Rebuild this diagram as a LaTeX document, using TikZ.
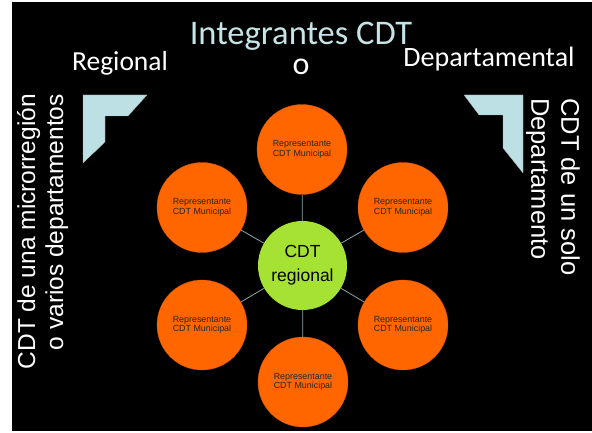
\documentclass[tikz,border=0pt]{standalone}
\usepackage{fontspec}
\setmainfont{Carlito}
\newfontfamily\arialfont{Liberation Sans}
\definecolor{munorange}{HTML}{FF6600}
\definecolor{regiongreen}{HTML}{A6E234}
\definecolor{titlecyan}{HTML}{C6E3E6}
\definecolor{bracketblue}{HTML}{BCE0E4}
\definecolor{spokegray}{HTML}{8CA6AE}

\begin{document}
\begin{tikzpicture}
  [x=1pt,y=-1pt,every node/.style={inner sep=0pt},
   muni/.style={circle, minimum size=90pt, fill=munorange, draw=munorange!85!black, line width=0.3pt,
     text=black!85, align=center, font=\arialfont\fontsize{8.9}{9.6}\selectfont},
   hub/.style={circle, minimum size=89pt, fill=regiongreen, align=center,
     font=\arialfont\fontsize{17.5}{24}\selectfont},
   bracket/.style={fill=bracketblue, draw=gray!70, line width=0.3pt}]
  \useasboundingbox (0,0) rectangle (592,433);
  \fill[white] (0,0) rectangle (592,433);
  \fill[black] (12,2) rectangle (592,431);

  % titles
  \node[anchor=base, text=titlecyan, font=\fontsize{34.5}{36}\selectfont] (title) at (301,45) {Integrantes CDT};
  \node[anchor=base, text=white, font=\fontsize{32}{36}\selectfont] (or) at (301,75) {o};
  \node[anchor=base, text=white, font=\fontsize{27.5}{30}\selectfont] (reg) at (120,71) {Regional};
  \node[anchor=base, text=white, font=\fontsize{28}{30}\selectfont] (dep) at (489,67) {Departamental};

  % side texts
  \node[rotate=90, anchor=north east, align=right, text=white, font=\arialfont\fontsize{24.5}{28}\selectfont]
    (left) at (17,94) {CDT de una microrregión\\o varios departamentos};
  \node[rotate=-90, anchor=north west, align=left, text=white, font=\arialfont\fontsize{25.5}{30}\selectfont]
    (right) at (580,98) {CDT de un solo\\Departamento};

  % brackets
  \path[bracket] (83,95) -- (147,95) -- (128,116) -- (105,116) -- (105,142) -- (83,163) -- cycle;
  \path[bracket] (464,95) -- (523,95) -- (523,173) -- (503,148) -- (503,115) -- (479,115) -- cycle;

  \node[hub] (cdt) at (302.5,265.5) {CDT\\regional};
  \node[muni] (m1) at (302,149.5) {Representante\\CDT Municipal};
  \node[muni] (m2) at (202,207.5) {Representante\\CDT Municipal};
  \node[muni] (m3) at (403,207.5) {Representante\\CDT Municipal};
  \node[muni] (m4) at (202,325) {Representante\\CDT Municipal};
  \node[muni] (m5) at (403,325) {Representante\\CDT Municipal};
  \node[muni] (m6) at (303,382) {Representante\\CDT Municipal};

\path[draw,spokegray,line width=0.8pt]
    (cdt) edge (m1)
    (cdt) edge (m2)
    (cdt) edge (m3)
    (cdt) edge (m4)
    (cdt) edge (m5)
    (cdt) edge (m6)
;
\end{tikzpicture}
\end{document}
